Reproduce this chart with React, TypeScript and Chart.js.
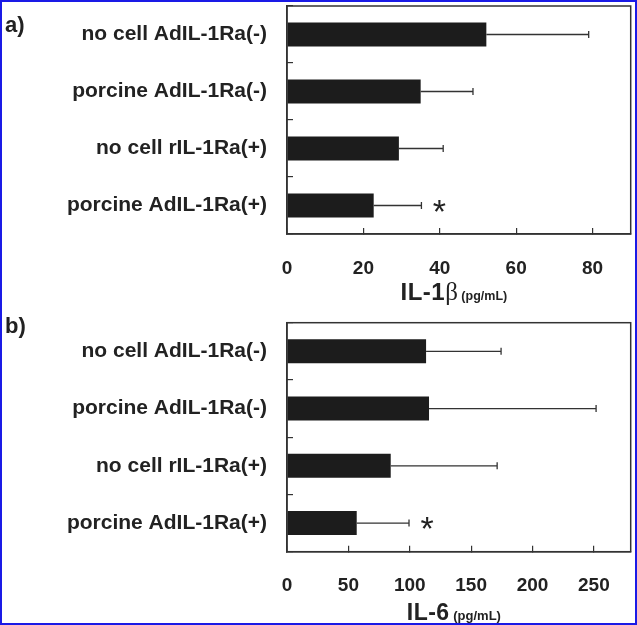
import React, { useEffect, useRef } from "react";
import { Chart, registerables } from "chart.js";

Chart.register(...registerables);

const categories = [
  "no cell AdIL-1Ra(-)",
  "porcine AdIL-1Ra(-)",
  "no cell rIL-1Ra(+)",
  "porcine AdIL-1Ra(+)",
];
const il1bMeans = [52.2, 35.0, 29.3, 22.7];
const il1bErrors = [26.8, 13.7, 11.6, 12.5];
const il6Means = [113.3, 115.7, 84.5, 56.8];
const il6Errors = [61.1, 136.1, 86.7, 42.6];
const significant = [false, false, false, true];
const il1bTicks = [0, 20, 40, 60, 80];
const il1bMax = 90;
const il6Ticks = [0, 50, 100, 150, 200, 250];
const il6Max = 280;
const il1bTitle = [
  { text: "IL-1", font: "bold 24px 'Liberation Sans', Arial, sans-serif", spacing: 0.5 },
  { text: "β", font: "25px 'Liberation Serif', 'Times New Roman', serif", spacing: 0 },
  { text: " (pg/mL)", font: "bold 12.5px 'Liberation Sans', Arial, sans-serif", spacing: 0 },
];
const il6Title = [
  { text: "IL-6", font: "bold 23px 'Liberation Sans', Arial, sans-serif", spacing: 0.5 },
  { text: " (pg/mL)", font: "bold 13px 'Liberation Sans', Arial, sans-serif", spacing: 0 },
];

const FAMILY = "'Liberation Sans', Arial, sans-serif";
const INK = "#222222";
const AXIS = "#333333";

type Seg = { text: string; font: string; spacing: number };

function makeChart(
  canvas: HTMLCanvasElement,
  means: number[],
  errors: number[],
  ticks: number[],
  max: number,
  title: Seg[],
  padTop: number,
  xAxisHeight: number,
  titleOffset: number
) {
  const frame = {
    id: "frame",
    afterDatasetsDraw(chart: any) {
      const { ctx, chartArea: a } = chart;
      ctx.save();
      ctx.strokeStyle = AXIS;
      ctx.lineWidth = 1.5;
      ctx.strokeRect(a.left, a.top, a.right - a.left, a.bottom - a.top);
      ctx.restore();
    },
  };
  const errorBars = {
    id: "errorBars",
    afterDatasetsDraw(chart: any) {
      const { ctx } = chart;
      const meta = chart.getDatasetMeta(0);
      const xs = chart.scales.x;
      ctx.save();
      ctx.strokeStyle = AXIS;
      ctx.fillStyle = INK;
      ctx.lineWidth = 1.3;
      meta.data.forEach((bar: any, i: number) => {
        const x2 = xs.getPixelForValue(means[i] + errors[i]);
        const y = bar.y;
        ctx.beginPath();
        ctx.moveTo(bar.x, y);
        ctx.lineTo(x2, y);
        ctx.moveTo(x2, y - 3.5);
        ctx.lineTo(x2, y + 3.5);
        ctx.stroke();
        if (significant[i]) {
          ctx.font = `34px ${FAMILY}`;
          ctx.textAlign = "center";
          ctx.textBaseline = "alphabetic";
          const m = ctx.measureText("*");
          const mid = (m.actualBoundingBoxAscent - m.actualBoundingBoxDescent) / 2;
          ctx.fillText("*", x2 + 18, y + mid);
        }
      });
      ctx.restore();
    },
  };
  const axisTitle = {
    id: "axisTitle",
    afterDraw(chart: any) {
      const { ctx, chartArea: a } = chart;
      ctx.save();
      ctx.fillStyle = INK;
      ctx.textBaseline = "alphabetic";
      ctx.textAlign = "left";
      let total = 0;
      title.forEach((s) => {
        ctx.font = s.font;
        (ctx as any).letterSpacing = `${s.spacing}px`;
        total += ctx.measureText(s.text).width;
      });
      let x = (a.left + a.right) / 2 - 5 - total / 2;
      const y = a.bottom + titleOffset + 7;
      title.forEach((s) => {
        ctx.font = s.font;
        (ctx as any).letterSpacing = `${s.spacing}px`;
        ctx.fillText(s.text, x, y);
        x += ctx.measureText(s.text).width;
      });
      ctx.restore();
    },
  };

  return new Chart(canvas, {
    type: "bar",
    data: {
      labels: categories,
      datasets: [
        {
          data: means,
          backgroundColor: "#1c1c1c",
          borderWidth: 0,
          categoryPercentage: 1,
          barPercentage: 0.42,
        },
      ],
    },
    options: {
      indexAxis: "y",
      responsive: false,
      animation: false,
      events: [],
      layout: { padding: { top: padTop, right: 6.3, left: 0, bottom: 0 } },
      plugins: { legend: { display: false }, tooltip: { enabled: false } },
      scales: {
        x: {
          min: 0,
          max: max,
          afterBuildTicks: (s: any) => {
            s.ticks = ticks.map((v) => ({ value: v }));
          },
          grid: {
            drawOnChartArea: false,
            tickLength: -6,
            color: AXIS,
            lineWidth: 1.2,
          },
          border: { display: true, color: AXIS, width: 1.5 },
          ticks: {
            font: { family: FAMILY, size: 19, weight: "bold" },
            color: INK,
            padding: 29,
            maxRotation: 0,
          },
          afterFit: (s: any) => {
            s.height = xAxisHeight;
            s.paddingLeft = 0;
            s.paddingRight = 0;
          },
        },
        y: {
          grid: {
            offset: true,
            drawOnChartArea: false,
            tickLength: -6,
            color: AXIS,
            lineWidth: 1.2,
          },
          border: { display: true, color: AXIS, width: 1.5 },
          ticks: {
            font: { family: FAMILY, size: 21, weight: "bold" },
            color: INK,
            padding: 26,
          },
          afterFit: (s: any) => {
            s.width = 287;
            s.paddingTop = 0;
            s.paddingBottom = 0;
          },
        },
      },
    } as any,
    plugins: [frame, errorBars, axisTitle],
  });
}

export default function App() {
  const refA = useRef<HTMLCanvasElement>(null);
  const refB = useRef<HTMLCanvasElement>(null);

  useEffect(() => {
    const a = makeChart(refA.current!, il1bMeans, il1bErrors, il1bTicks, il1bMax, il1bTitle, 6, 78, 59);
    const b = makeChart(refB.current!, il6Means, il6Errors, il6Ticks, il6Max, il6Title, 10.7, 73.3, 61);
    return () => {
      a.destroy();
      b.destroy();
    };
  }, []);

  const letter: React.CSSProperties = {
    position: "absolute",
    left: 5,
    fontFamily: FAMILY,
    fontWeight: "bold",
    fontSize: 22,
    color: INK,
    lineHeight: "22px",
  };

  return (
    <div
      style={{
        position: "fixed",
        left: 0,
        top: 0,
        width: 637,
        height: 625,
        background: "#ffffff",
        overflow: "hidden",
      }}
    >
      <canvas ref={refA} width={637} height={312} style={{ position: "absolute", left: 0, top: 0 }} />
      <canvas ref={refB} width={637} height={313} style={{ position: "absolute", left: 0, top: 312 }} />
      <div style={{ ...letter, top: 14 }}>a)</div>
      <div style={{ ...letter, top: 315 }}>b)</div>
      <div
        style={{
          position: "absolute",
          left: 0,
          top: 0,
          width: 637,
          height: 625,
          boxSizing: "border-box",
          border: "2.5px solid #1a1ae6",
          pointerEvents: "none",
        }}
      />
    </div>
  );
}
